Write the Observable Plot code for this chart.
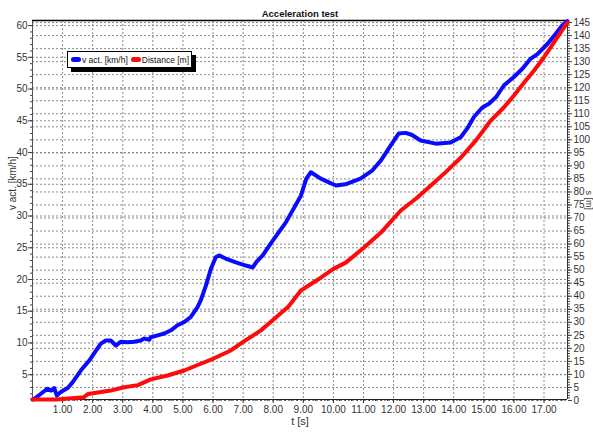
<!DOCTYPE html>
<html>
<head>
<meta charset="utf-8">
<script src="https://cdn.jsdelivr.net/npm/d3@7"></script>
<script src="https://cdn.jsdelivr.net/npm/@observablehq/plot@0.6"></script>
<style>
  body { margin: 0; background: #fff; }
  #chart { position: relative; width: 593px; height: 432px; font-family: "Liberation Sans", Arial, sans-serif; }
  #chart svg { display: block; }
  .legend {
    position: absolute; left: 67px; top: 51px; width: 123px; height: 15px;
    border: 1px solid #000; background: #fff; box-shadow: 4px 4px 0 #000;
    font-size: 8.5px; color: #111; display: flex; align-items: center; white-space: nowrap;
  }
  .sw { display: inline-block; width: 10px; height: 5px; border-radius: 3px; margin: 0 1px 0 3px; }
</style>
</head>
<body>
<div id="chart"></div>
<script>
// Speed over time, km/h
const timeV = [0, 0.06, 0.28, 0.5, 0.61, 0.72, 0.81, 0.94, 1.17, 1.33, 1.61, 1.88, 2.11, 2.27, 2.44, 2.6, 2.77, 2.94, 3.16, 3.38, 3.6, 3.71, 3.88, 3.93, 4.16, 4.38, 4.6, 4.82, 5.04, 5.26, 5.48, 5.59, 5.76, 5.93, 6.09, 6.2, 6.42, 6.76, 7.09, 7.32, 7.45, 7.65, 7.92, 8.42, 8.92, 9.1, 9.25, 9.58, 10.08, 10.4, 10.9, 11.3, 11.57, 11.9, 12.17, 12.4, 12.6, 12.9, 13.4, 13.9, 14.23, 14.45, 14.67, 14.95, 15.17, 15.4, 15.67, 16.0, 16.28, 16.56, 16.78, 17.11, 17.39, 17.6, 17.78];
const speed = [1.1, 1.2, 2.0, 2.8, 2.5, 2.9, 1.7, 2.3, 2.9, 3.8, 5.7, 7.2, 8.8, 9.9, 10.4, 10.4, 9.6, 10.2, 10.1, 10.2, 10.4, 10.7, 10.5, 10.9, 11.2, 11.5, 12.0, 12.8, 13.3, 14.1, 15.6, 16.7, 19.0, 21.7, 23.5, 23.8, 23.3, 22.7, 22.2, 21.9, 22.8, 23.8, 25.7, 29.0, 33.2, 35.9, 36.9, 35.9, 34.8, 35.0, 35.9, 37.2, 38.7, 41.1, 43.0, 43.1, 42.8, 41.9, 41.4, 41.6, 42.4, 43.8, 45.6, 47.1, 47.7, 48.7, 50.6, 51.9, 53.2, 54.8, 55.5, 57.1, 58.7, 60.0, 60.7];

// Distance covered over time, m
const timeD = [0, 0.8, 1.7, 1.85, 2.6, 3.0, 3.5, 3.93, 4.49, 5.04, 5.59, 6.0, 6.59, 7.0, 7.59, 8.0, 8.5, 8.92, 9.5, 10.0, 10.41, 11.0, 11.58, 12.24, 12.75, 13.24, 13.75, 14.24, 14.75, 15.23, 15.67, 16.0, 16.34, 16.67, 17.0, 17.33, 17.56, 17.78];
const distance = [0.4, 0.4, 1.2, 2.5, 3.8, 5.0, 5.9, 8.1, 9.6, 11.5, 14.1, 16.0, 19.2, 22.5, 26.9, 31.0, 36.0, 42.2, 46.5, 50.5, 52.9, 58.5, 64.4, 72.9, 77.5, 82.5, 87.8, 93.2, 100.0, 107.4, 112.5, 117.0, 122.0, 126.6, 131.7, 137.4, 141.3, 145.0];

// Axis ticks
const xTicks = [1, 2, 3, 4, 5, 6, 7, 8, 9, 10, 11, 12, 13, 14, 15, 16, 17];
const leftTicks = [5, 10, 15, 20, 25, 30, 35, 40, 45, 50, 55, 60];
const rightTicks = [0, 5, 10, 15, 20, 25, 30, 35, 40, 45, 50, 55, 60, 65, 70, 75, 80, 85, 90, 95, 100, 105, 110, 115, 120, 125, 130, 135, 140, 145];

const xDomain = [0, 17.78];
const yDomain = [1.1, 60.8];
// Distance axis (right) expressed in speed-axis units
const distToV = d3.scaleLinear().domain([0, 145]).range([0.945, 60.48]);

const speedRows = timeV.map((t, i) => ({t, v: speed[i]}));
const distRows = timeD.map((t, i) => ({t, d: distance[i]}));

const gridStyle = {stroke: "#8a8a8a", strokeOpacity: 1, strokeDasharray: "2,2", strokeWidth: 1};

const chart = Plot.plot({
  width: 593,
  height: 432,
  marginLeft: 32,
  marginRight: 26,
  marginTop: 20,
  marginBottom: 33,
  style: {fontFamily: "Liberation Sans, Arial, sans-serif", fontSize: "10px", color: "#333", background: "#fff"},
  x: {domain: xDomain},
  y: {domain: yDomain},
  marks: [
    Plot.gridX(xTicks, gridStyle),
    Plot.gridY(leftTicks, gridStyle),
    Plot.gridY(rightTicks, {...gridStyle, y: distToV}),
    // x axis
    Plot.axisX(d3.range(0, 17.8, 0.2), {tickSize: 2, fill: "none", label: null, stroke: "#333"}),
    Plot.axisX(xTicks, {tickSize: 4, tickPadding: 2, tickFormat: d => d.toFixed(2), label: null, stroke: "#333"}),
    // left axis
    Plot.axisY(d3.range(2, 61), {tickSize: 2, fill: "none", label: null, stroke: "#444"}),
    Plot.axisY(leftTicks, {tickSize: 4, tickPadding: 1, label: null, stroke: "#444"}),
    // right axis
    Plot.axisY(d3.range(0, 146), {anchor: "right", y: distToV, tickSize: 2, fill: "none", label: null, stroke: "#444"}),
    Plot.axisY(rightTicks, {anchor: "right", y: distToV, text: d => String(d), tickSize: 4, tickPadding: 2, label: null, stroke: "#444"}),
    // frame
    Plot.ruleX([xDomain[0]], {stroke: "#555"}),
    Plot.ruleX([xDomain[1]], {stroke: "#333"}),
    Plot.ruleY([yDomain[0]], {stroke: "#222"}),
    Plot.ruleY([yDomain[1]], {stroke: "#000", strokeWidth: 1.5}),
    // series
    Plot.line(speedRows, {x: "t", y: "v", stroke: "#0a0aff", strokeWidth: 4, strokeLinejoin: "round"}),
    Plot.line(distRows, {x: "t", y: d => distToV(d.d), stroke: "#ff0a0a", strokeWidth: 4, strokeLinejoin: "round"}),
    // titles
    Plot.text(["Acceleration test"], {frameAnchor: "top", dy: -10, fontWeight: "bold", fontSize: 9.5, fill: "#111"}),
    Plot.text(["t [s]"], {frameAnchor: "bottom", dy: 25, fontSize: 11, fill: "#333"}),
    Plot.text(["v act. [km/h]"], {frameAnchor: "left", dx: -20, rotate: -90, fontSize: 10, fill: "#333"}),
    Plot.text(["s [m]"], {frameAnchor: "right", dx: 21, rotate: 90, fontSize: 9, fill: "#333"})
  ]
});

const root = document.getElementById("chart");
root.appendChild(chart);

const legend = document.createElement("div");
legend.className = "legend";
legend.innerHTML =
  '<span class="sw" style="background:#0a0aff"></span><span>v act. [km/h]</span>' +
  '<span class="sw" style="background:#ff0a0a;margin-left:3px"></span><span>Distance [m]</span>';
root.appendChild(legend);
</script>
</body>
</html>
